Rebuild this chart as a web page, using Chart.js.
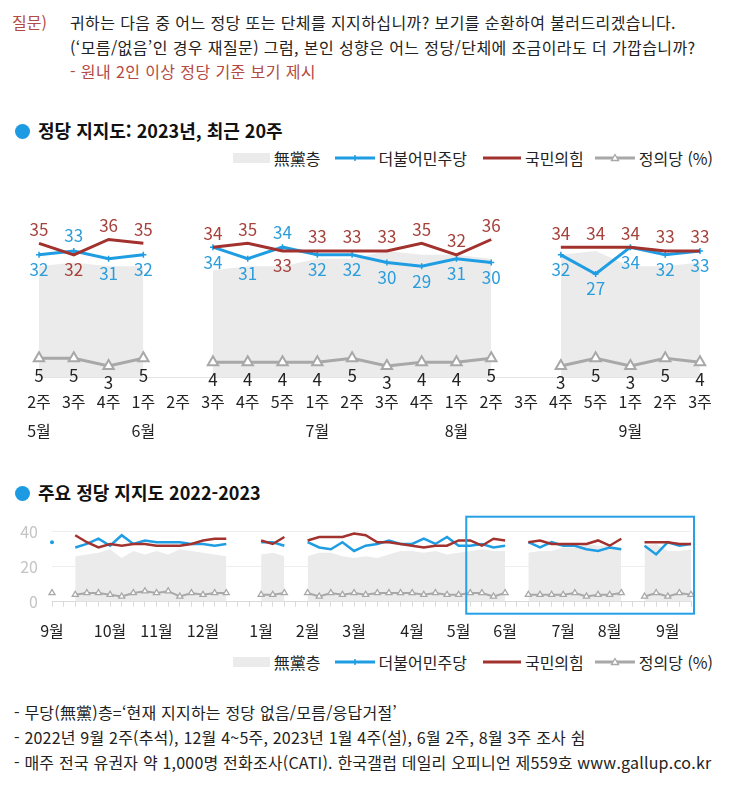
<!DOCTYPE html>
<html lang="ko">
<head>
<meta charset="utf-8">
<script src="https://cdn.jsdelivr.net/npm/chart.js@4.4.0/dist/chart.umd.min.js"></script>
<style>
body{margin:0;background:#fff;font-family:'Noto Sans CJK KR','Noto Sans',sans-serif;color:#222;}
#page{position:relative;width:730px;height:801px;overflow:hidden;background:#fff;}
.t{position:absolute;white-space:nowrap;font-size:16px;line-height:20px;}
.q{letter-spacing:0.4px;}
.f{letter-spacing:0.2px;}
.red{color:#b34a43;}
.head{position:absolute;left:15px;white-space:nowrap;font-size:18px;font-weight:700;line-height:22px;color:#111;}
.head span.dot{display:inline-block;width:15px;height:15px;border-radius:50%;background:#1c9be2;vertical-align:-1px;margin-right:8px;}
.legend{position:absolute;right:17px;display:flex;align-items:center;font-size:16px;line-height:20px;white-space:nowrap;}
.legend svg{display:block;}
canvas{position:absolute;left:0;}
</style>
</head>
<body>
<div id="page">
  <div class="t red" style="left:12px;top:12px;">질문)</div>
  <div class="t q" style="left:70px;top:12px;">귀하는 다음 중 어느 정당 또는 단체를 지지하십니까? 보기를 순환하여 불러드리겠습니다.</div>
  <div class="t q" style="left:70px;top:37px;">(‘모름/없음’인 경우 재질문) 그럼, 본인 성향은 어느 정당/단체에 조금이라도 더 가깝습니까?</div>
  <div class="t red q" style="left:70px;top:61px;">- 원내 2인 이상 정당 기준 보기 제시</div>

  <div class="head" style="top:119px;"><span class="dot"></span>정당 지지도: 2023년, 최근 20주</div>
  <div class="legend" id="legend1" style="top:148px;"></div>
  <canvas id="recentChart" width="730" height="275" style="top:175px;"></canvas>

  <div class="head" style="top:481px;"><span class="dot"></span>주요 정당 지지도 2022-2023</div>
  <canvas id="yearChart" width="730" height="150" style="top:500px;"></canvas>
  <div class="legend" id="legend2" style="top:652px;"></div>

  <div class="t f" style="left:14px;top:702px;">- 무당(無黨)층=‘현재 지지하는 정당 없음/모름/응답거절’</div>
  <div class="t f" style="left:14px;top:727px;">- 2022년 9월 2주(추석), 12월 4~5주, 2023년 1월 4주(설), 6월 2주, 8월 3주 조사 쉼</div>
  <div class="t f" style="left:14px;top:752px;">- 매주 전국 유권자 약 1,000명 전화조사(CATI). 한국갤럽 데일리 오피니언 제559호 www.gallup.co.kr</div>
</div>

<script>
// 2022년 9월 1주 ~ 2023년 9월 3주 (주간)
const months = [9,9,9,9,9, 10,10,10,10, 11,11,11,11, 12,12,12,12,12, 1,1,1,1, 2,2,2,2, 3,3,3,3,3, 4,4,4,4, 5,5,5,5, 6,6,6,6,6, 7,7,7,7, 8,8,8,8,8, 9,9,9];
const weeks  = [1,2,3,4,5, 1,2,3,4, 1,2,3,4, 1,2,3,4,5, 1,2,3,4, 1,2,3,4, 1,2,3,4,5, 1,2,3,4, 1,2,3,4, 1,2,3,4,5, 1,2,3,4, 1,2,3,4,5, 1,2,3];

// null = 조사 쉼
const muDang = [27,null,26,27,28, 30,25,29,27, 29,27,30,29, 28,27,26,null,null, 27,28,26,null, 26,28,28,26, 25,26,25,27,29, 29,28,29,27, 28,29,30,29, 29,null,28,29,29, 31,31,33,32, 32,31,null,32,33, 29,29,30];
const minjoo = [34,null,31,33,36, 32,38,33,35, 34,34,34,33, 33,32,33,null,null, 34,34,32,null, 34,31,30,34, 29,32,33,35,33, 33,36,33,37, 32,32,33,31, 32,null,34,31,34, 32,32,30,29, 31,30,null,32,27, 34,32,33];
const ppp    = [34,null,38,34,31, 33,32,33,33, 32,32,32,33, 35,36,36,null,null, 35,33,37,null, 35,37,37,37, 39,38,34,34,33, 32,31,32,32, 35,35,32,36, 35,null,34,35,33, 33,33,33,35, 32,36,null,34,34, 34,33,33];
const justice= [5,null,4,5,5, 4,3,5,6, 5,6,3,5, 4,5,5,null,null, 4,4,5,null, 5,3,5,4, 5,4,5,5,5, 5,4,5,4, 4,5,5,3, 5,null,4,4,4, 4,5,3,4, 4,5,null,3,5, 3,5,4];

const RECENT = 20;
const seriesNames = ['無黨층', '더불어민주당', '국민의힘', '정의당 (%)'];
const colBlue = '#1f9de3', colRed = '#a2322e', colGray = '#a8a8a8', colArea = '#ebebeb';

// ---------------------------------------------------------------- legend
function makeLegend(id){
	const el = document.getElementById(id);
	const sw = [
		'<svg width="37" height="12"><rect x="0" y="1" width="37" height="10" fill="'+colArea+'"/></svg>',
		'<svg width="40" height="12"><line x1="0" y1="6" x2="40" y2="6" stroke="'+colBlue+'" stroke-width="3"/><line x1="20" y1="3" x2="20" y2="9" stroke="'+colBlue+'" stroke-width="1.5"/></svg>',
		'<svg width="38" height="12"><line x1="0" y1="6" x2="38" y2="6" stroke="'+colRed+'" stroke-width="3"/></svg>',
		'<svg width="40" height="12"><line x1="0" y1="6" x2="40" y2="6" stroke="'+colGray+'" stroke-width="3"/><path d="M20 2.5 L23.5 8.5 L16.5 8.5 Z" fill="#fff" stroke="'+colGray+'" stroke-width="1.3"/></svg>'
	];
	const gaps = [14, 16, 11, 0];
	let html = '';
	for(let i=0;i<4;i++){
		html += sw[i] + '<span style="margin-left:4px;margin-right:'+gaps[i]+'px">'+seriesNames[i]+'</span>';
	}
	el.innerHTML = html;
}
makeLegend('legend1');
makeLegend('legend2');

// ---------------------------------------------------------------- top chart (last 20 weeks)
const sl = a => a.slice(-RECENT);
const rMonths = sl(months), rWeeks = sl(weeks);
const recentLabels = rWeeks.map(function(w, i){
	return [w + '주', (i==0 || w==1) ? rMonths[i] + '월' : ''];
});

const valueLabels = {
	id: 'valueLabels',
	afterDatasetsDraw(chart){
		const ctx = chart.ctx;
		const mBlue = chart.getDatasetMeta(1), mRed = chart.getDatasetMeta(2), mGray = chart.getDatasetMeta(3);
		const b = chart.data.datasets[1].data, r = chart.data.datasets[2].data, g = chart.data.datasets[3].data;
		ctx.save();
		ctx.font = '17px "Noto Sans CJK KR", sans-serif';
		ctx.textAlign = 'center';
		ctx.textBaseline = 'middle';
		for(let i=0;i<b.length;i++){
			if(b[i]==null) continue;
			const blueUp = b[i] > r[i];
			ctx.fillStyle = '#2a9ddc';
			ctx.fillText(b[i], mBlue.data[i].x, mBlue.data[i].y + (blueUp ? -15 : 15));
			ctx.fillStyle = '#a6403b';
			ctx.fillText(r[i], mRed.data[i].x, mRed.data[i].y + (blueUp ? 15 : -14));
			ctx.fillStyle = '#222';
			ctx.fillText(g[i], mGray.data[i].x, mGray.data[i].y + 17);
		}
		ctx.restore();
	}
};

new Chart(document.getElementById('recentChart'), {
	type: 'line',
	data: {
		labels: recentLabels,
		datasets: [
			{ data: sl(muDang), fill: 'origin', backgroundColor: colArea, borderWidth: 0, pointRadius: 0, order: 4 },
			{ data: sl(minjoo), borderColor: colBlue, borderWidth: 3, pointStyle: 'cross', pointRadius: 3, pointBorderColor: colBlue, pointBorderWidth: 1.5, order: 3 },
			{ data: sl(ppp), borderColor: colRed, borderWidth: 3, pointRadius: 0, order: 2 },
			{ data: sl(justice), borderColor: colGray, borderWidth: 3, pointStyle: 'triangle', pointRadius: 6, pointBackgroundColor: '#fff', pointBorderColor: colGray, pointBorderWidth: 2, order: 1 }
		]
	},
	options: {
		responsive: false,
		animation: false,
		events: [],
		layout: { padding: { left: 39, right: 30, top: 30, bottom: 0 } },
		plugins: { legend: { display: false }, tooltip: { enabled: false } },
		scales: {
			x: {
				offset: false,
				grid: { display: true, drawOnChartArea: false, drawTicks: false, color: '#e3e3e3' },
				border: { color: '#e3e3e3' },
				ticks: { padding: 10, autoSkip: false, maxRotation: 0, color: '#222', font: { size: 16, family: '"Noto Sans CJK KR", sans-serif', lineHeight: 1.81 } },
				afterFit: function(scale){ scale.height = 72.5; }
			},
			y: { display: false, min: 0, max: 45 }
		}
	},
	plugins: [valueLabels]
});

// ---------------------------------------------------------------- bottom chart (2022-2023)
const yearLabels = weeks.map(function(w, i){ return w==1 ? months[i] + '월' : ''; });

const recentBox = {
	id: 'recentBox',
	afterDraw(chart){
		const ctx = chart.ctx, x = chart.scales.x, a = chart.chartArea;
		const x1 = x.getPixelForValue(months.length - RECENT) - 4;
		const x2 = x.getPixelForValue(months.length - 1) + 3;
		ctx.save();
		ctx.strokeStyle = '#27a0e6';
		ctx.lineWidth = 2;
		ctx.strokeRect(x1, a.top - 15, x2 - x1, a.bottom - a.top + 27);
		ctx.restore();
	}
};

function isolated(arr){
	return function(c){
		const i = c.dataIndex;
		return (arr[i-1]==null && arr[i+1]==null) ? 2 : 0;
	};
}

new Chart(document.getElementById('yearChart'), {
	type: 'line',
	data: {
		labels: yearLabels,
		datasets: [
			{ data: muDang, fill: 'origin', backgroundColor: colArea, borderWidth: 0, pointRadius: 0, order: 4 },
			{ data: minjoo, borderColor: colBlue, borderWidth: 2.5, pointRadius: isolated(minjoo), pointBackgroundColor: colBlue, pointBorderWidth: 0, order: 3 },
			{ data: ppp, borderColor: colRed, borderWidth: 2.5, pointRadius: 0, order: 2 },
			{ data: justice, borderColor: colGray, borderWidth: 2, pointStyle: 'triangle', pointRadius: 3.5, pointBackgroundColor: '#fff', pointBorderColor: colGray, pointBorderWidth: 1.3, order: 1 }
		]
	},
	options: {
		responsive: false,
		animation: false,
		events: [],
		layout: { padding: { left: 0, right: 39, top: 31.7, bottom: 0 } },
		plugins: { legend: { display: false }, tooltip: { enabled: false } },
		scales: {
			x: {
				offset: false,
				grid: { display: true, drawOnChartArea: false, tickLength: 5, color: '#d9d9d9' },
				border: { color: '#d9d9d9' },
				ticks: { padding: 15, autoSkip: false, maxRotation: 0, color: '#222', font: { size: 16, family: '"Noto Sans CJK KR", sans-serif' } },
				afterFit: function(scale){ scale.height = 48.3; }
			},
			y: {
				min: 0, max: 40,
				grid: { color: '#eeeeee', drawTicks: false },
				border: { display: false },
				ticks: { stepSize: 20, padding: 14, color: '#c4c4c4', font: { size: 16, family: '"Noto Sans CJK KR", sans-serif' } },
				afterFit: function(scale){ scale.width = 52; }
			}
		}
	},
	plugins: [recentBox]
});
</script>
</body>
</html>
